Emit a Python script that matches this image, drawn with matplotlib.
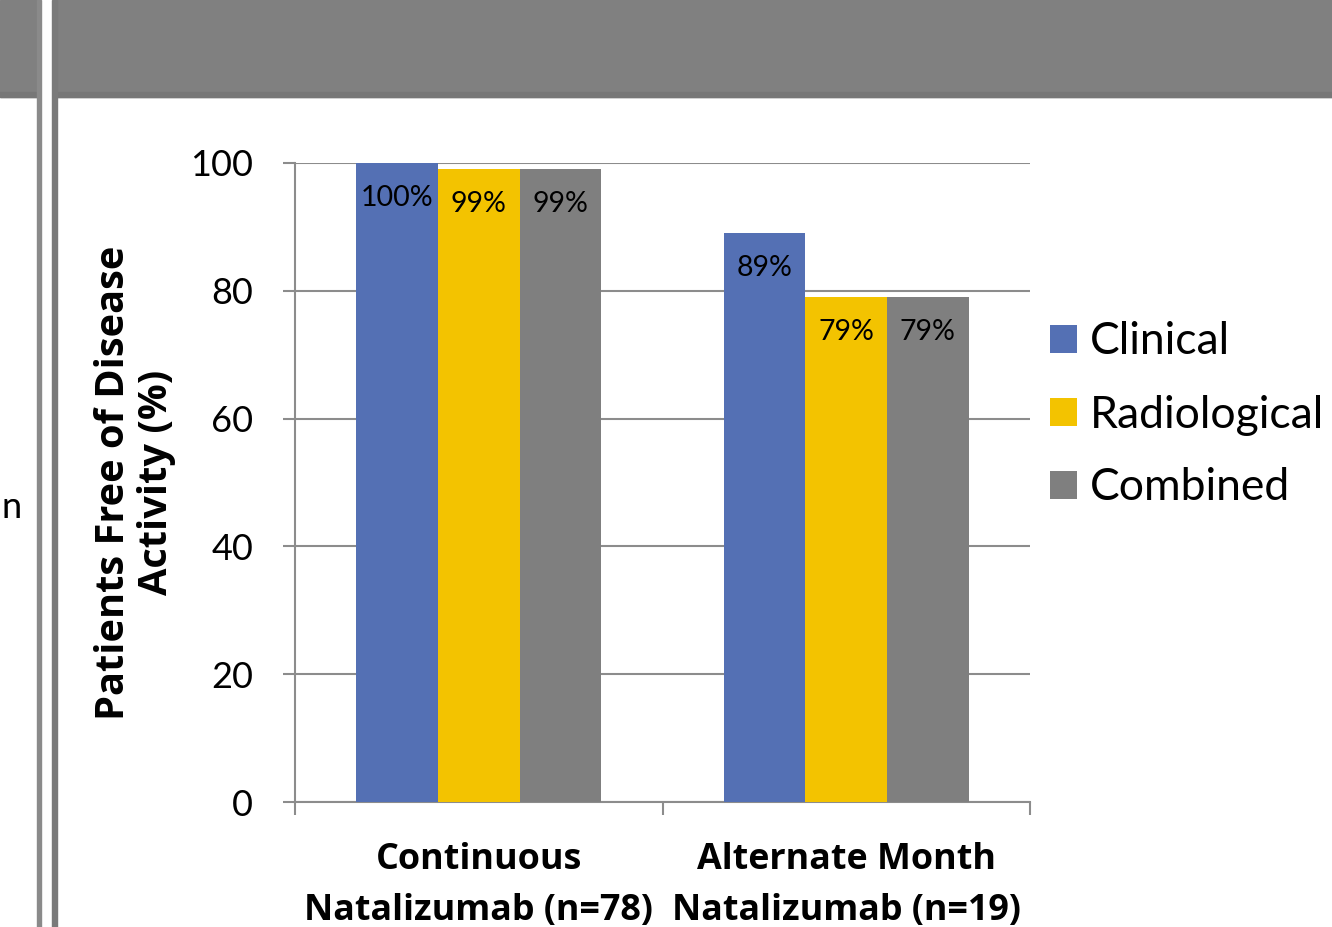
import matplotlib
matplotlib.use("Agg")
import matplotlib.pyplot as plt
from matplotlib.patches import Rectangle
import numpy as np

plt.rcParams['font.family'] = ['Lato', 'DejaVu Sans']
BOLD_FONT = ['Open Sans', 'DejaVu Sans']

categories = ["Continuous\nNatalizumab (n=78)", "Alternate Month\nNatalizumab (n=19)"]
series_names = ["Clinical", "Radiological", "Combined"]
clinical = [100, 89]
radiological = [99, 79]
combined = [99, 79]
y_ticks = [0, 20, 40, 60, 80, 100]

colors = ["#5470b4", "#f3c300", "#7f7f7f"]
axis_gray = "#8c8c8c"

W, H = 1332, 927
fig = plt.figure(figsize=(W / 100, H / 100), dpi=100)

# slide background: header band and divider bars
def px_rect(x0, y0, x1, y1, color):
    fig.patches.append(Rectangle((x0 / W, 1 - y1 / H), (x1 - x0) / W, (y1 - y0) / H,
                                 transform=fig.transFigure, color=color, zorder=0))

px_rect(0, 0, 37, 97, "#808080")
px_rect(57, 0, W, 97, "#808080")
px_rect(0, 92, 37, 97, "#777777")
px_rect(57, 92, W, 97, "#777777")
px_rect(37, 0, 41, H, "#8a8a8a")
px_rect(52, 0, 57, H, "#7a7a7a")
fig.text(1 / W, 1 - 508 / H, "n", ha="left", va="center", fontsize=26, color="black")

ax = fig.add_axes([295 / W, 1 - 802 / H, (1030 - 295) / W, (802 - 163) / H])

x = np.arange(len(categories))
bw = 1 / 4.5
all_series = [clinical, radiological, combined]
for i, (vals, col, name) in enumerate(zip(all_series, colors, series_names)):
    pos = x + (i - 1) * bw
    bars = ax.bar(pos, vals, width=bw, color=col, label=name, zorder=3)
    for b, v in zip(bars, vals):
        ax.annotate(f"{v}%", (b.get_x() + b.get_width() / 2, v), xytext=(0, -25),
                    textcoords="offset points", ha="center", va="center",
                    fontsize=20.5, color="black", zorder=4)

ax.set_xlim(-0.5, len(categories) - 0.5)
ax.set_ylim(0, 100)
ax.set_yticks(y_ticks)
ax.set_yticklabels([str(t) for t in y_ticks], fontsize=26)
ax.yaxis.grid(True, color=axis_gray, linewidth=1.5, zorder=0)
ax.set_axisbelow(True)

ax.set_xticks([-0.5, 0.5, 1.5], minor=False)
ax.set_xticklabels([])
ax.set_xticks(x, minor=True)
ax.set_xticklabels(categories, minor=True, fontsize=25.8, fontweight="bold",
                   family=BOLD_FONT, linespacing=1.55)
ax.tick_params(axis="x", which="major", direction="out", length=9, width=1.5, color=axis_gray)
ax.tick_params(axis="x", which="minor", length=0, pad=29)
ax.tick_params(axis="y", direction="out", length=9, width=1.5, color=axis_gray, pad=21)

for s in ["top", "right"]:
    ax.spines[s].set_visible(False)
for s in ["left", "bottom"]:
    ax.spines[s].set_color(axis_gray)
    ax.spines[s].set_linewidth(1.5)

ax.set_ylabel("Patients Free of Disease\nActivity (%)", fontsize=28.6, fontweight="bold",
              family=BOLD_FONT, linespacing=1.15)
ax.yaxis.label.set_va("center")
ax.yaxis.set_label_coords((135 - 295) / (1030 - 295), 0.5)

leg = ax.legend(loc="center left", bbox_to_anchor=(1050 / W, 1 - 415 / H),
                bbox_transform=fig.transFigure, frameon=False,
                fontsize=32, handlelength=0.6, handleheight=0.6, handletextpad=0.3,
                labelspacing=0.72, borderpad=0, borderaxespad=0)

fig.savefig("out.png", dpi=100)
